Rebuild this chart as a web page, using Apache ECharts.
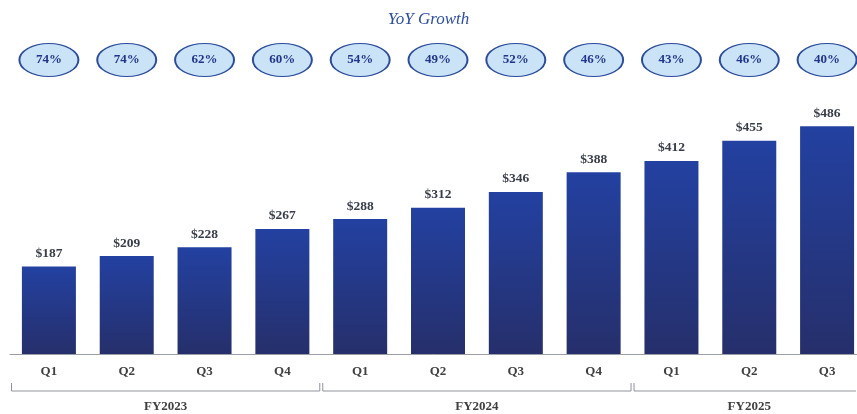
<!DOCTYPE html>
<html>
<head>
<meta charset="utf-8">
<script src="https://cdn.jsdelivr.net/npm/echarts@6/dist/echarts.min.js"></script>
<style>
  html, body { margin: 0; padding: 0; background: #fff; }
  #chart { width: 857px; height: 414px; }
</style>
</head>
<body>
<div id="chart"></div>
<script>
const quarters = ['Q1', 'Q2', 'Q3', 'Q4', 'Q1', 'Q2', 'Q3', 'Q4', 'Q1', 'Q2', 'Q3'];
const revenue = [187, 209, 228, 267, 288, 312, 346, 388, 412, 455, 486];
const yoyGrowth = [74, 74, 62, 60, 54, 49, 52, 46, 43, 46, 40];
// fiscal years: [first quarter index, last quarter index, label]
const fiscalYears = [
    [0, 3, 'FY2023'],
    [4, 7, 'FY2024'],
    [8, 10, 'FY2025']
];

const serif = '"Liberation Serif", "DejaVu Serif", serif';
const chart = echarts.init(document.getElementById('chart'));

const option = {
    animation: false,
    title: {
        text: 'YoY Growth',
        left: 'center',
        top: 6,
        textStyle: {
            fontFamily: serif,
            fontStyle: 'italic',
            fontWeight: 'normal',
            fontSize: 17,
            color: '#2e4ea3'
        }
    },
    grid: [
        { left: 10, width: 856, top: 101, bottom: 60, outerBoundsMode: 'none' },
        { left: 10, width: 856, top: 44, height: 32, outerBoundsMode: 'none' }
    ],
    xAxis: [
        {
            type: 'category',
            gridIndex: 0,
            data: quarters,
            axisLine: { lineStyle: { color: '#9a9ea8', width: 1 } },
            axisTick: { show: false },
            axisLabel: {
                margin: 11,
                fontFamily: serif,
                fontWeight: 'bold',
                fontSize: 13,
                color: '#404040'
            }
        },
        {
            type: 'category',
            gridIndex: 1,
            data: quarters,
            show: false
        }
    ],
    yAxis: [
        { type: 'value', gridIndex: 0, min: 0, max: 540, show: false },
        { type: 'value', gridIndex: 1, min: 0, max: 1, show: false }
    ],
    series: [
        {
            type: 'bar',
            xAxisIndex: 0,
            yAxisIndex: 0,
            data: revenue,
            barWidth: 54,
            itemStyle: {
                color: new echarts.graphic.LinearGradient(0, 0, 0, 1, [
                    { offset: 0, color: '#2341a1' },
                    { offset: 1, color: '#262f6b' }
                ])
            },
            label: {
                show: true,
                position: 'top',
                distance: 6,
                formatter: p => '$' + p.value,
                fontFamily: serif,
                fontWeight: 'bold',
                fontSize: 13.5,
                color: '#383d4a'
            }
        },
        {
            type: 'scatter',
            xAxisIndex: 1,
            yAxisIndex: 1,
            data: yoyGrowth.map((v, i) => [i, 0.5, v]),
            symbol: 'circle',
            symbolSize: [59, 33],
            itemStyle: {
                color: '#cae3f7',
                borderColor: '#2b4c9c',
                borderWidth: 1.5,
                opacity: 1
            },
            emphasis: { disabled: true },
            label: {
                show: true,
                position: 'inside',
                formatter: p => p.value[2] + '%',
                fontFamily: serif,
                fontWeight: 'bold',
                fontSize: 13,
                color: '#22358c',
                textBorderWidth: 0
            }
        },
        {
            // fiscal year brackets under the quarter labels
            type: 'custom',
            xAxisIndex: 0,
            yAxisIndex: 0,
            data: fiscalYears,
            clip: false,
            renderItem: (params, api) => {
                const step = api.size([1, 0])[0];
                const left = api.coord([api.value(0), 0])[0] - step / 2;
                const right = api.coord([api.value(1), 0])[0] + step / 2;
                const x0 = left + 1.5;
                const x1 = Math.min(right - 1.5, 856);
                const base = api.coord([0, 0])[1];
                const yLine = base + 37;
                const yTop = base + 29;
                const style = { stroke: '#8f939c', lineWidth: 1, fill: null };
                const children = [
                    { type: 'polyline', shape: { points: [[x0, yTop], [x0, yLine], [x1, yLine]] }, style: style },
                    {
                        type: 'text',
                        style: {
                            text: fiscalYears[params.dataIndex][2],
                            x: (left + right) / 2,
                            y: yLine + 16,
                            align: 'center',
                            verticalAlign: 'middle',
                            font: 'bold 13px ' + serif,
                            fill: '#404040'
                        }
                    }
                ];
                if (params.dataIndex < fiscalYears.length - 1) {
                    children.push({ type: 'line', shape: { x1: x1, y1: yTop, x2: x1, y2: yLine }, style: style });
                }
                return { type: 'group', children: children };
            }
        }
    ]
};

chart.setOption(option);
</script>
</body>
</html>
